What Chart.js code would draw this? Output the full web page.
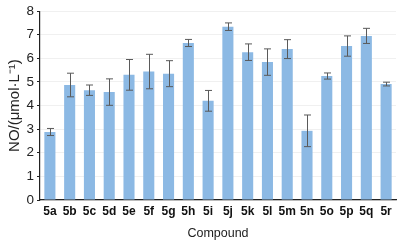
<!DOCTYPE html>
<html>
<head>
  <script src="https://cdn.jsdelivr.net/npm/chart.js"></script>
  <style>
    body { margin: 0; background: #fff; }
    #wrap { width: 403px; height: 245px; }
  </style>
</head>
<body>
  <div id="wrap"><canvas id="c" width="403" height="245"></canvas></div>
  <script>
    // Data
    const compounds = ['5a','5b','5c','5d','5e','5f','5g','5h','5i','5j','5k','5l','5m','5n','5o','5p','5q','5r'];
    const noValues = [2.88, 4.87, 4.65, 4.57, 5.3, 5.44, 5.35, 6.65, 4.2, 7.34, 6.26, 5.84, 6.39, 2.93, 5.25, 6.52, 6.95, 4.91];
    const noErrors = [0.15, 0.5, 0.22, 0.56, 0.65, 0.73, 0.55, 0.15, 0.44, 0.16, 0.35, 0.56, 0.4, 0.67, 0.13, 0.43, 0.32, 0.08];
    const yTicks = [0, 1, 2, 3, 4, 5, 6, 7, 8];

    // draw error bars with caps
    const errorBars = {
      id: 'errorBars',
      afterDatasetsDraw(chart) {
        const ctx = chart.ctx;
        const y = chart.scales.y;
        const meta = chart.getDatasetMeta(0);
        ctx.save();
        ctx.strokeStyle = '#5a5a5a';
        ctx.lineWidth = 1;
        meta.data.forEach((bar, i) => {
          const x = Math.round(bar.x) + 0.5;
          const top = y.getPixelForValue(noValues[i] + noErrors[i]);
          const bot = y.getPixelForValue(noValues[i] - noErrors[i]);
          ctx.beginPath();
          ctx.moveTo(x, top); ctx.lineTo(x, bot);
          ctx.moveTo(x - 3.5, top); ctx.lineTo(x + 3.5, top);
          ctx.moveTo(x - 3.5, bot); ctx.lineTo(x + 3.5, bot);
          ctx.stroke();
        });
        ctx.restore();
      }
    };

    new Chart(document.getElementById('c'), {
      type: 'bar',
      data: {
        labels: compounds,
        datasets: [{
          data: noValues,
          backgroundColor: '#8cb9e4',
          borderWidth: 0,
          categoryPercentage: 1,
          barPercentage: 0.56
        }]
      },
      options: {
        responsive: false,
        animation: false,
        layout: { padding: { top: 9, right: 7, left: 0, bottom: 0 } },
        plugins: { legend: { display: false }, tooltip: { enabled: false } },
        scales: {
          x: {
            grid: { display: false, drawTicks: false },
            border: { color: '#222', width: 1.2 },
            ticks: {
              color: '#111',
              font: { family: 'Liberation Sans', size: 12, weight: 'bold' },
              padding: 4,
              maxRotation: 0,
              autoSkip: false
            },
            title: {
              display: true,
              text: 'Compound',
              color: '#222',
              font: { family: 'Liberation Sans', size: 12.5 },
              padding: { top: 8, bottom: 4 }
            },
            afterFit(scale) { scale.height = 45; }
          },
          y: {
            min: 0,
            max: 8,
            afterBuildTicks(scale) { scale.ticks = yTicks.map(v => ({ value: v })); },
            grid: {
              color: '#f0f0f0',
              tickColor: '#222',
              tickLength: 3,
              drawTicks: true
            },
            border: { color: '#222', width: 1.2 },
            ticks: {
              color: '#222',
              font: { family: 'Liberation Sans', size: 13.5 },
              padding: 3
            },
            title: {
              display: true,
              text: 'NO/(μmol·L⁻¹)',
              color: '#222',
              font: { family: 'Liberation Sans', size: 15 },
              padding: { top: 6, bottom: 0 }
            },
            afterFit(scale) { scale.width = 40; }
          }
        }
      },
      plugins: [errorBars]
    });
  </script>
</body>
</html>
